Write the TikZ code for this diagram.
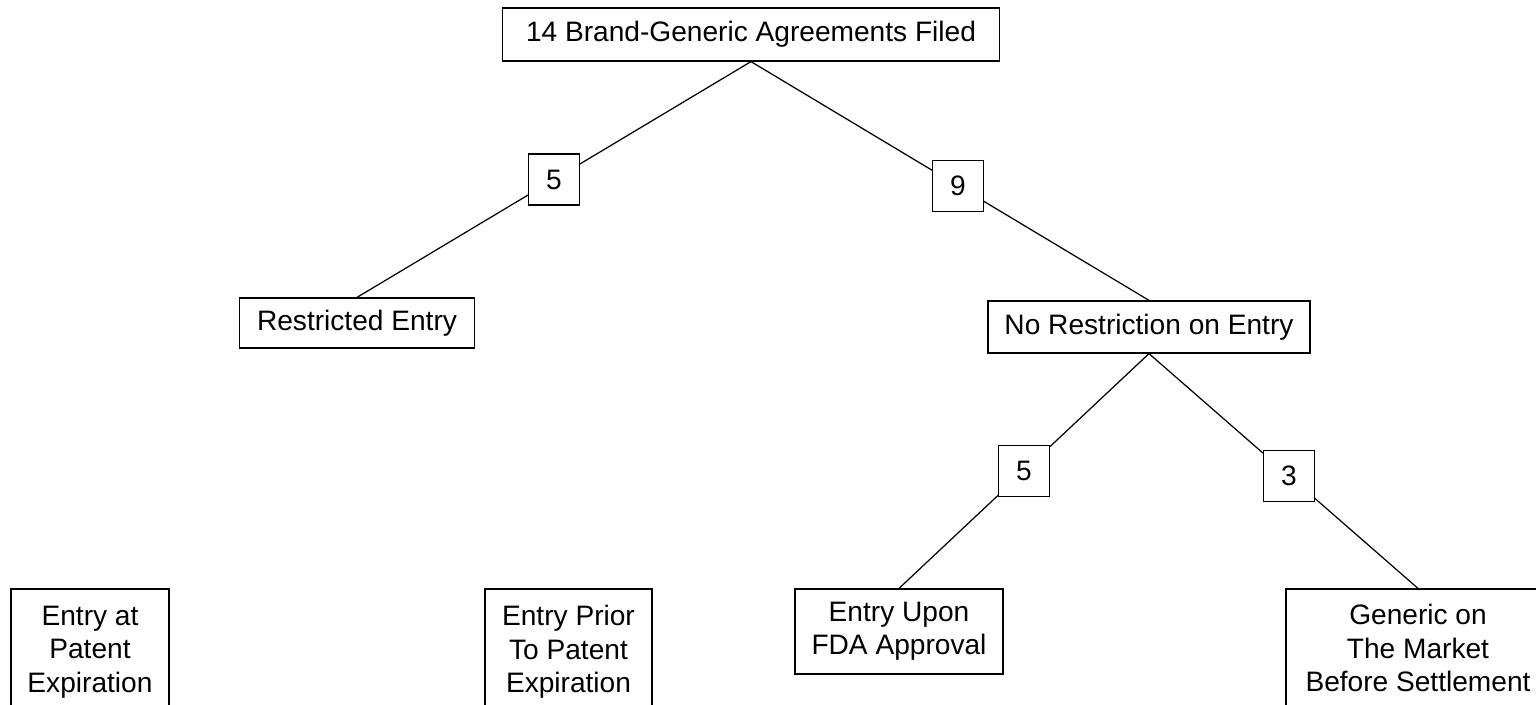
\documentclass[tikz,border=0pt]{standalone}
\usepackage{fontspec}
\setmainfont{Liberation Sans}
\begin{document}
\begin{tikzpicture}[x=0.02cm, y=-0.02cm, line width=0.7pt,
  every node/.style={draw, fill=white, align=center, inner sep=0pt, font=\fontsize{16}{19}\selectfont},
  num/.style={minimum size=1.02cm}]
\useasboundingbox (0,0) rectangle (1536,705);
\node[minimum width=9.94cm, minimum height=1.06cm] (e0) at (751, 34.5) {14 Brand-Generic Agreements Filed};
\node[minimum width=4.7cm, minimum height=1cm] (e10) at (357, 323) {Restricted Entry};
\node[minimum width=6.44cm, minimum height=1.04cm] (e11) at (1149, 327) {No Restriction on Entry};
\node[minimum width=4.16cm, minimum height=1.7cm] (e20) at (899, 631.5) {Entry Upon\\FDA Approval};
\node[minimum width=5.28cm, minimum height=2.36cm] (e21) at (1418, 648) {Generic on\\The Market\\Before Settlement};
\node[minimum width=3.16cm, minimum height=2.52cm] (e30) at (90, 652) {Entry at\\Patent\\Expiration};
\node[minimum width=3.34cm, minimum height=2.52cm] (e31) at (568.5, 652) {Entry Prior\\To Patent\\Expiration};
\draw (e0.south) -- node[num] (n10) {5} (e10.north);
\draw (e0.south) -- node[num, pos=0.52] (n11) {9} (e11.north);
\draw (e11.south) -- node[num] (n20) {5} (e20.north);
\draw (e11.south) -- node[num, pos=0.52] (n21) {3} (e21.north);
\end{tikzpicture}
\end{document}
